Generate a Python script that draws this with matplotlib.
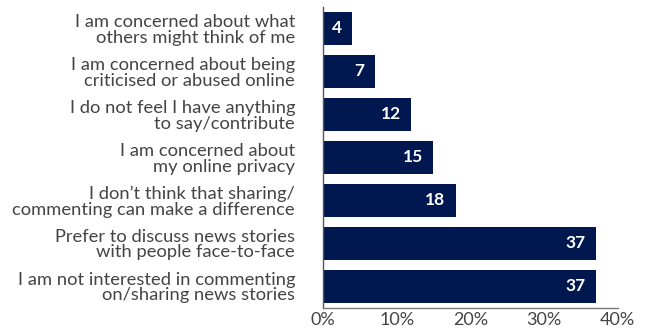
import matplotlib.pyplot as plt

plt.rcParams['font.family'] = ['Lato', 'DejaVu Sans']

# reasons for not sharing/commenting, top to bottom
reasons = [
    "I am concerned about what\nothers might think of me",
    "I am concerned about being\ncriticised or abused online",
    "I do not feel I have anything\nto say/contribute",
    "I am concerned about\nmy online privacy",
    "I don\u2019t think that sharing/\ncommenting can make a difference",
    "Prefer to discuss news stories\nwith people face-to-face",
    "I am not interested in commenting\non/sharing news stories",
]
values = [4, 7, 12, 15, 18, 37, 37]
ticks = [0, 10, 20, 30, 40]
tick_labels = ["0%", "10%", "20%", "30%", "40%"]

navy = "#00174f"
grey = "#444444"

fig = plt.figure(figsize=(6.51, 3.29), dpi=100)
ax = fig.add_axes([0.496, 0.065, 0.453, 0.914])

pos = list(range(len(values)))
ax.barh(pos, values, height=0.77, color=navy)

for p, v in zip(pos, values):
    ax.annotate(str(v), (v, p), xytext=(-7.5, 0), textcoords='offset points',
                ha='right', va='center', color='white', fontsize=12.5,
                fontweight='bold')

ax.set_ylim(len(values) - 0.5, -0.5)
ax.set_xlim(0, 40)
ax.set_yticks(pos)
ax.set_yticklabels(reasons, fontsize=13.2, color=grey, linespacing=0.98)
ax.set_xticks(ticks)
ax.set_xticklabels(tick_labels, fontsize=13, color=grey)
ax.tick_params(axis='both', length=0)
ax.tick_params(axis='y', pad=20)
ax.tick_params(axis='x', pad=3)

for s in ['top', 'right']:
    ax.spines[s].set_visible(False)
ax.spines['left'].set_color('#555555')
ax.spines['bottom'].set_color('#777777')
ax.spines['left'].set_linewidth(1.0)
ax.spines['bottom'].set_linewidth(1.0)

fig.savefig('out.png', dpi=100)
